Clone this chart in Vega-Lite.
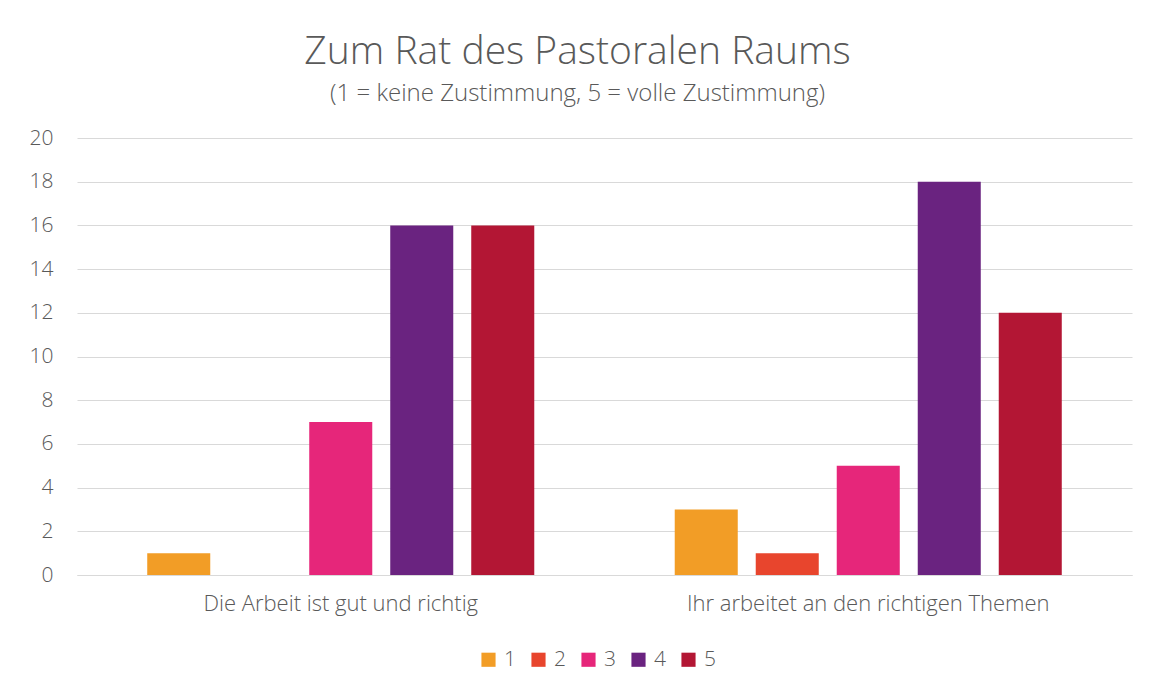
{
  "$schema": "https://vega.github.io/schema/vega-lite/v6.json",
  "autosize": {"type": "none"},
  "width": 1055,
  "height": 437,
  "padding": {"left": 77, "top": 138, "right": 22, "bottom": 113},
  "background": "white",
  "title": {
    "text": "Zum Rat des Pastoralen Raums",
    "subtitle": "(1 = keine Zustimmung, 5 = volle Zustimmung)",
    "anchor": "middle",
    "dx": -27,
    "offset": 21,
    "font": "Open Sans",
    "fontSize": 39,
    "fontWeight": 300,
    "color": "#595959",
    "subtitleFont": "Open Sans",
    "subtitleFontSize": 24,
    "subtitleFontWeight": 300,
    "subtitleColor": "#595959",
    "subtitlePadding": 10
  },
  "data": {
    "values": [
      {"Aussage": "Die Arbeit ist gut und richtig", "Bewertung": "1", "Anzahl": 1},
      {"Aussage": "Die Arbeit ist gut und richtig", "Bewertung": "2", "Anzahl": 0},
      {"Aussage": "Die Arbeit ist gut und richtig", "Bewertung": "3", "Anzahl": 7},
      {"Aussage": "Die Arbeit ist gut und richtig", "Bewertung": "4", "Anzahl": 16},
      {"Aussage": "Die Arbeit ist gut und richtig", "Bewertung": "5", "Anzahl": 16},
      {"Aussage": "Ihr arbeitet an den richtigen Themen", "Bewertung": "1", "Anzahl": 3},
      {"Aussage": "Ihr arbeitet an den richtigen Themen", "Bewertung": "2", "Anzahl": 1},
      {"Aussage": "Ihr arbeitet an den richtigen Themen", "Bewertung": "3", "Anzahl": 5},
      {"Aussage": "Ihr arbeitet an den richtigen Themen", "Bewertung": "4", "Anzahl": 18},
      {"Aussage": "Ihr arbeitet an den richtigen Themen", "Bewertung": "5", "Anzahl": 12}
    ]
  },
  "mark": {"type": "bar"},
  "encoding": {
    "x": {
      "field": "Aussage",
      "type": "nominal",
      "sort": null,
      "title": null,
      "scale": {"paddingInner": 0, "paddingOuter": 0},
      "axis": {
        "labelAngle": 0,
        "labelLimit": 0,
        "labelFont": "Open Sans",
        "labelFontWeight": 300,
        "labelFontSize": 22,
        "labelColor": "#595959",
        "labelPadding": 18,
        "ticks": false,
        "domainColor": "#d9d9d9",
        "domainWidth": 1
      }
    },
    "xOffset": {
      "field": "Bewertung",
      "type": "nominal",
      "scale": {"paddingInner": 0.222, "paddingOuter": 0.867}
    },
    "y": {
      "field": "Anzahl",
      "type": "quantitative",
      "title": null,
      "scale": {"domain": [0, 20]},
      "axis": {
        "values": [0, 2, 4, 6, 8, 10, 12, 14, 16, 18, 20],
        "domain": false,
        "ticks": false,
        "labelFont": "Open Sans",
        "labelFontWeight": 300,
        "labelFontSize": 21,
        "labelColor": "#595959",
        "labelPadding": 24,
        "gridColor": "#d9d9d9",
        "gridWidth": 1
      }
    },
    "color": {
      "field": "Bewertung",
      "type": "nominal",
      "title": null,
      "scale": {
        "domain": ["1", "2", "3", "4", "5"],
        "range": ["#F29D26", "#E8452D", "#E6267A", "#6A2380", "#B31634"]
      },
      "legend": {
        "orient": "none",
        "legendX": 401,
        "legendY": 511,
        "direction": "horizontal",
        "symbolType": "square",
        "symbolSize": 200,
        "symbolStrokeWidth": 0,
        "labelFont": "Open Sans",
        "labelFontWeight": 300,
        "labelFontSize": 21,
        "labelColor": "#595959",
        "labelOffset": 5,
        "columnPadding": 12
      }
    }
  },
  "config": {"view": {"stroke": null}}
}
